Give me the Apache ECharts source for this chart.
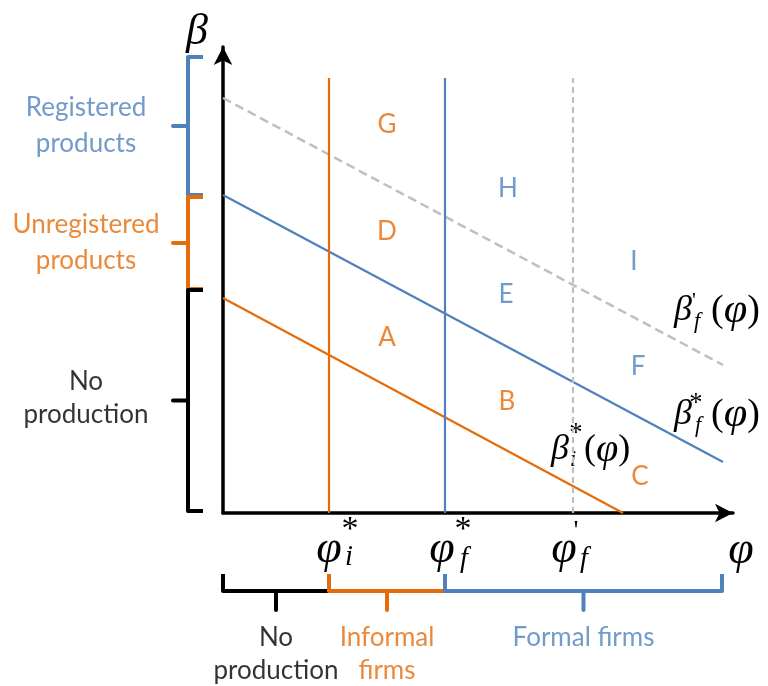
<!DOCTYPE html>
<html><head><meta charset="utf-8">
<script src="https://cdn.jsdelivr.net/npm/echarts@6/dist/echarts.min.js"></script>
<style>html,body{margin:0;padding:0;background:#fff}#c{width:768px;height:686px}</style>
</head><body><div id="c"></div>
<script>
const ORANGE = '#E46C0A', BLUE = '#4F81BD', GREY = '#BFBFBF', BLACK = '#000000';
const TEXT_FONT = 'Lato';
const MATH_FONT = '"Liberation Serif", "DejaVu Serif", serif';

// productivity thresholds on the horizontal axis
const phiI = 21.2, phiF = 44.4, phiFp = 70;
const thresholdTop = 87;

// cutoff lines beta(phi)
const betaI = [[0, 43], [80, 0]];
const betaF = [[0, 63.6], [100, 10.2]];
const betaFp = [[0, 83], [100, 29.6]];

// region letters
const regionNames = ['G', 'D', 'A', 'H', 'E', 'B', 'I', 'F', 'C'];
const regionX = [32.8, 32.8, 32.8, 57, 56.6, 56.8, 82.2, 83, 83.4];
const regionY = [77.6, 56.2, 35, 64.8, 43.6, 22.2, 50.2, 29.2, 7.2];
const regionColors = [ORANGE, ORANGE, ORANGE, BLUE, BLUE, ORANGE, BLUE, BLUE, ORANGE];

// beta ranges on the left
const leftNames = ['Registered\nproducts', 'Unregistered\nproducts', 'No\nproduction'];
const leftTop = [91.2, 63.2, 44.6];
const leftBottom = [63.6, 44.8, 0.4];
const leftColors = [BLUE, ORANGE, BLACK];

// phi ranges along the bottom
const bottomNames = ['No\nproduction', 'Informal\nfirms', 'Formal firms'];
const bottomFrom = [0, phiI, phiF];
const bottomTo = [phiI, phiF, 99.8];
const bottomColors = [BLACK, ORANGE, BLUE];

const X_MAX = 102, Y_MAX = 93.2;

function leftBrace(top, bottom) {
  const mid = (top + bottom) / 2;
  return [[-4, top], [-7, top], [-7, mid], [-10, mid], [-7, mid], [-7, bottom], [-4, bottom]];
}
function bottomBrace(a, b) {
  const mid = (a + b) / 2;
  return [[a, -12.2], [a, -15.6], [mid, -15.6], [mid, -19.4], [mid, -15.6], [b, -15.6], [b, -12.2]];
}
const braces = [];
leftNames.forEach((n, i) => braces.push({ pts: leftBrace(leftTop[i], leftBottom[i]), color: leftColors[i] }));
bottomNames.forEach((n, i) => braces.push({ pts: bottomBrace(bottomFrom[i], bottomTo[i]), color: bottomColors[i] }));

const series = [];
function addLine(data, color, width, type) {
  series.push({
    type: 'line', data: data, symbol: 'none', clip: false, silent: true,
    lineStyle: { color: color, width: width, type: type || 'solid', cap: 'butt', join: 'round' },
    z: 3
  });
}
addLine(betaI, ORANGE, 2.2);
addLine(betaF, BLUE, 2.2);
addLine(betaFp, GREY, 2.5, [9, 5]);
addLine([[phiI, 0], [phiI, thresholdTop]], ORANGE, 2.2);
addLine([[phiF, 0], [phiF, thresholdTop]], BLUE, 2.2);
addLine([[phiFp, 0], [phiFp, thresholdTop]], GREY, 2.2, [6, 4]);

// curly braces that mark the ranges
series.push({
  type: 'custom', clip: false, silent: true, z: 4,
  data: braces.map((b, i) => [i]),
  renderItem: function (params, api) {
    const b = braces[params.dataIndex];
    return {
      type: 'polyline',
      shape: { points: b.pts.map(p => api.coord(p)) },
      style: { stroke: b.color, lineWidth: 4, fill: null, lineJoin: 'round', lineCap: 'butt' }
    };
  }
});

function textSeries(points) {
  series.push({
    type: 'scatter', symbolSize: 0, clip: false, silent: true, z: 5,
    data: points.map(p => ({
      value: [p.x, p.y],
      label: {
        show: true, position: 'inside', formatter: p.text, color: p.color,
        fontFamily: TEXT_FONT, fontSize: 26, lineHeight: p.lh || 34, align: 'center'
      }
    }))
  });
}
textSeries(regionNames.map((t, i) => ({ x: regionX[i], y: regionY[i], text: t, color: regionColors[i] })));
textSeries(leftNames.map((t, i) => ({ x: -27.4, y: (leftTop[i] + leftBottom[i]) / 2 + (i === 2 ? 0.4 : 0), text: t, color: leftColors[i], lh: i === 2 ? 33 : 36 })));
textSeries(bottomNames.map((t, i) => ({ x: (bottomFrom[i] + bottomTo[i]) / 2, y: t.indexOf('\n') >= 0 ? -28.2 : -25, text: t, color: bottomColors[i], lh: 33 })));

const chart = echarts.init(document.getElementById('c'), null, { renderer: 'canvas' });
const axisCommon = {
  type: 'value',
  axisLine: { show: true, symbol: ['none', 'arrow'], symbolSize: [14, 18], lineStyle: { color: BLACK, width: 3.5 } },
  axisTick: { show: false }, axisLabel: { show: false }, splitLine: { show: false }
};
chart.setOption({
  animation: false,
  backgroundColor: '#ffffff',
  grid: { left: 223, top: 47, width: 510, height: 466 },
  xAxis: Object.assign({}, axisCommon, { min: 0, max: X_MAX }),
  yAxis: Object.assign({}, axisCommon, { min: 0, max: Y_MAX }),
  series: series
});

// math labels: base glyph with stacked super/subscripts and an optional "(φ)" tail
function mathLabel(anchor, off, base, size, sup, sub, supOff, subOff, tailGap, tailSize) {
  const p = chart.convertToPixel({ gridIndex: 0 }, anchor);
  const cx = p[0] + off[0], cy = p[1] + off[1];
  const els = [{
    type: 'text', x: cx, y: cy, style: { text: base, fontFamily: MATH_FONT, fontStyle: 'italic', fontSize: size, fill: BLACK, align: 'center', verticalAlign: 'middle' }
  }];
  if (sup) els.push({ type: 'text', x: cx + supOff[0], y: cy + supOff[1], style: { text: sup, fontFamily: MATH_FONT, fontSize: size * (sup === '*' ? 0.74 : 0.6), fill: BLACK, align: 'center', verticalAlign: 'middle' } });
  if (sub) els.push({ type: 'text', x: cx + subOff[0], y: cy + subOff[1], style: { text: sub, fontFamily: MATH_FONT, fontStyle: 'italic', fontSize: size * 0.62, fill: BLACK, align: 'center', verticalAlign: 'middle' } });
  if (tailGap) els.push({ type: 'text', x: cx + tailGap, y: cy, style: { text: '({i|φ})', fontFamily: MATH_FONT, fontSize: tailSize, fill: BLACK, align: 'left', verticalAlign: 'middle', rich: { i: { fontStyle: 'italic', fontFamily: MATH_FONT, fontSize: tailSize * 1.12 } } } });
  return els;
}
let g = [];
g = g.concat(mathLabel([0, Y_MAX], [-26, -15], 'β', 44));
g = g.concat(mathLabel([X_MAX, 0], [8, 38], 'φ', 46));
g = g.concat(mathLabel([phiI, 0], [0, 37], 'φ', 46, '*', 'i', [21, -20], [20, 8]));
g = g.concat(mathLabel([phiF, 0], [-3, 37], 'φ', 46, '*', 'f', [21, -20], [22, 10]));
g = g.concat(mathLabel([phiFp, 0], [-9, 37], 'φ', 46, "'", 'f', [12, -18], [20, 10]));
g = g.concat(mathLabel(betaFp[1], [-40, -54], 'β', 36, "'", 'f', [11, -10], [14, 11], 28, 38));
g = g.concat(mathLabel(betaF[1], [-40, -47], 'β', 36, '*', 'f', [13, -11], [15, 11], 28, 38));
g = g.concat(mathLabel(betaI[1], [-63, -63], 'β', 36, '*', 'i', [16, -16], [13, 10], 24, 36));
chart.setOption({ graphic: { elements: g } });
</script>
</body></html>
